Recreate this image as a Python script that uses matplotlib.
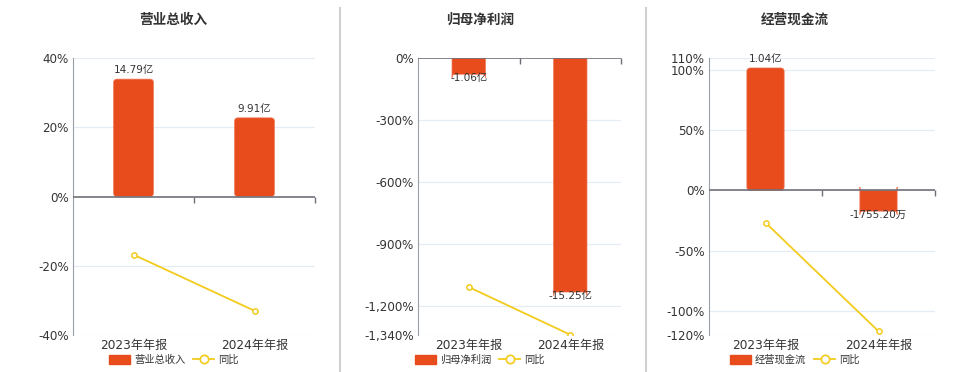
import matplotlib
matplotlib.use("Agg")
import matplotlib.pyplot as plt
from matplotlib.lines import Line2D
from matplotlib.patches import Patch, FancyBboxPatch
import matplotlib.transforms as mtrans
import numpy as np

plt.rcParams['font.family'] = ['DejaVu Sans', 'Noto Sans CJK SC']

categories = ["2023年年报", "2024年年报"]

titles = ["营业总收入", "归母净利润", "经营现金流"]
bar_values = [[14.79, 9.91], [-1.06, -15.25], [1.04, -0.17552]]
bar_labels = [["14.79亿", "9.91亿"], ["-1.06亿", "-15.25亿"], ["1.04亿", "-1755.20万"]]
yoy_values = [[-16.8, -33.0], [-1108.0, -1338.7], [-26.7, -116.9]]
yticks = [[-40, -20, 0, 20, 40],
          [-1340, -1200, -900, -600, -300, 0],
          [-120, -100, -50, 0, 50, 100, 110]]
ylims = [(-40, 40), (-1340, 0), (-120, 110)]
bar_lims = [(-17.45, 17.45), (-18.05, 0), (-1.227, 1.1245)]

BAR = "#E84B1C"
LINE = "#F2CB1D"
GRID = "#E6ECF5"
TXT = "#333333"

fig = plt.figure(figsize=(9.6, 3.72), dpi=100)

axes_px = [(73, 315), (418, 621), (709, 935)]
title_px = [173, 480, 795]
legend_px = [174, 480, 795]
top_px, bot_px = 58, 335
W, H = 960, 372

def fmt(v):
    return f"{v:,.0f}%"

for i in range(3):
    l, r = axes_px[i]
    rect = [l / W, (H - bot_px) / H, (r - l) / W, (bot_px - top_px) / H]
    ax = fig.add_axes(rect)
    axb = ax.twinx()
    ax.set_zorder(2)
    ax.patch.set_visible(False)
    x = np.arange(len(categories))
    ax.set_xlim(-0.5, 1.5)
    axb.set_xlim(-0.5, 1.5)
    ax.set_ylim(*ylims[i])
    axb.set_ylim(*bar_lims[i])

    # grid (behind bars, in primary-axis units)
    gtrans = mtrans.blended_transform_factory(axb.transAxes, ax.transData)
    for t in yticks[i]:
        if t != 0:
            axb.add_line(Line2D([0, 1], [t, t], transform=gtrans, color=GRID,
                                lw=0.9, zorder=0))
    bars = axb.bar(x, bar_values[i], width=0.33, color=BAR, zorder=2)
    # rounded corners
    fig.canvas.draw()
    p0 = axb.transData.transform((0, 0))
    p1 = axb.transData.transform((1, 1))
    px_per_x = abs(p1[0] - p0[0])
    px_per_y = abs(p1[1] - p0[1])
    rad_px = 3.5
    for b in bars:
        b.set_visible(False)
        bx, by, bw, bh = b.get_x(), b.get_y(), b.get_width(), b.get_height()
        fb = FancyBboxPatch((bx, by), bw, bh,
                            boxstyle=f"round,pad=0,rounding_size={rad_px / px_per_x}",
                            mutation_aspect=px_per_x / px_per_y,
                            facecolor=BAR, edgecolor="#F07A5A", linewidth=0.5, zorder=2)
        axb.add_patch(fb)
    for xi, v, lab in zip(x, bar_values[i], bar_labels[i]):
        if v >= 0:
            axb.annotate(lab, (xi, v), xytext=(0, 6.5), textcoords="offset points",
                         ha="center", va="center", fontsize=7.5, color=TXT)
        else:
            axb.annotate(lab, (xi, v), xytext=(0, -3), textcoords="offset points",
                         ha="center", va="center", fontsize=7.5, color=TXT)
    axb.set_yticks([])
    for s in axb.spines.values():
        s.set_visible(False)

    ax.plot(x, yoy_values[i], color=LINE, lw=1.3, marker="o", ms=3.8,
            mfc="white", mec=LINE, mew=1.1, zorder=5)

    ax.axhline(0, color="#6E7079", lw=1.2, zorder=4)
    # category boundary ticks on zero line
    ax.plot([0.5, 1.5], [0, 0], ls="none", marker=3, ms=4, color="#6E7079",
            zorder=4, markeredgewidth=1, clip_on=False)
    ax.set_yticks(yticks[i])
    ax.set_yticklabels([fmt(t) for t in yticks[i]], fontsize=8.6, color=TXT)
    ax.tick_params(axis="y", length=0, pad=3)
    ax.set_xticks(x)
    ax.set_xticklabels(categories, fontsize=8.7, color=TXT)
    ax.tick_params(axis="x", length=0, pad=3)
    for k in ["top", "right", "bottom"]:
        ax.spines[k].set_visible(False)
    ax.spines["left"].set_color("#9AA0AA")
    ax.spines["left"].set_linewidth(0.8)

    fig.text(title_px[i] / W, 1 - 20 / H, titles[i], ha="center", va="center",
             fontsize=9.8, fontweight="bold", color=TXT, family=['Noto Sans CJK SC'])

    handles = [Patch(facecolor=BAR, edgecolor=BAR),
               Line2D([0], [0], color=LINE, lw=1.3, marker="o", ms=6,
                      mfc="white", mec=LINE, mew=1.2)]
    fig.legend(handles, [titles[i], "同比"], loc="center",
               bbox_to_anchor=(legend_px[i] / W, 1 - 360 / H),
               ncol=2, frameon=False, handlelength=2.0, handleheight=0.9,
               columnspacing=0.8, handletextpad=0.4, labelcolor=TXT,
               prop={'family': ['Noto Sans CJK SC'], 'size': 7.4})

for xs in [340, 646]:
    fig.add_artist(Line2D([xs / W, xs / W], [0, 1 - 8 / H], color="#D0D0D0", lw=1.5))

fig.savefig("out.png", dpi=100, facecolor="white")
